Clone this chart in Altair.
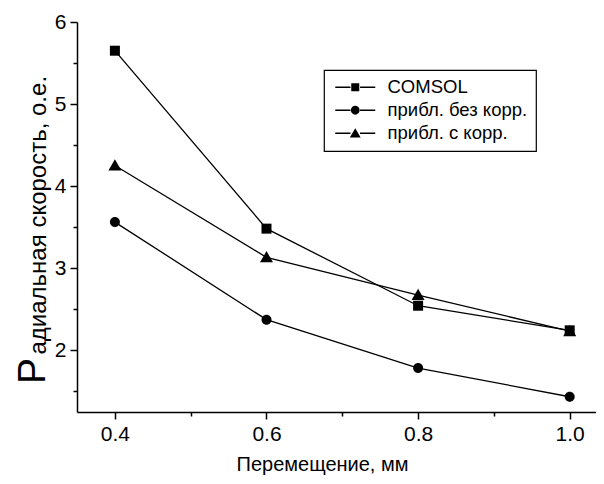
import altair as alt
import pandas as pd

# ---- data ----
x_mm = [0.4, 0.6, 0.8, 1.0]
comsol = [5.65, 3.48, 2.54, 2.24]
no_corr = [3.56, 2.37, 1.78, 1.43]
with_corr = [4.25, 3.13, 2.67, 2.23]
series = ["COMSOL", "прибл. без корр.", "прибл. с корр."]

x_ticks = [0.4, 0.6, 0.8, 1.0]
x_minor = [0.5, 0.7, 0.9]
y_ticks = [2, 3, 4, 5, 6]
y_minor = [1.5, 2.5, 3.5, 4.5, 5.5]

# drawing order: triangles first so squares sit on top where they overlap
rows = []
for name, vals in [(series[2], with_corr), (series[0], comsol), (series[1], no_corr)]:
    for xv, yv in zip(x_mm, vals):
        rows.append({"x": xv, "y": yv, "series": name})
df = pd.DataFrame(rows)

FONT = "Liberation Sans"
xs = alt.Scale(domain=[0.35, 1.0347], nice=False, zero=False)
ys = alt.Scale(domain=[1.244, 6], nice=False, zero=False)

base = alt.Chart(df)

minor = base.mark_line(opacity=0).encode(
    x=alt.X("x:Q", scale=xs, axis=alt.Axis(orient="bottom", values=x_minor, labels=False,
                                           domain=False, tickSize=4, tickWidth=1.5,
                                           tickColor="black", title=None, grid=False)),
    y=alt.Y("y:Q", scale=ys, axis=alt.Axis(orient="left", values=y_minor, labels=False,
                                           domain=False, tickSize=4, tickWidth=1.5,
                                           tickColor="black", title=None, grid=False)),
    detail="series:N",
)

lines = base.mark_line(color="black", strokeWidth=1.3).encode(
    x=alt.X("x:Q", scale=xs, axis=alt.Axis(
        orient="bottom", values=x_ticks, format=".1f", labelFont=FONT, labelFontSize=21,
        labelColor="black", labelPadding=4, labelFlush=False, tickSize=7, tickWidth=1.5,
        tickColor="black", domainWidth=1.5, domainColor="black", grid=False,
        title="Перемещение, мм", titleFont=FONT, titleFontSize=20, titleFontWeight="normal",
        titleColor="black", titleX=245, titleY=58, titleAlign="center",
        titleBaseline="alphabetic")),
    y=alt.Y("y:Q", scale=ys, axis=alt.Axis(
        orient="left", values=y_ticks, labelFont=FONT, labelFontSize=21,
        labelColor="black", labelPadding=4, labelFlush=False, tickSize=7, tickWidth=1.5,
        tickColor="black", domainWidth=1.5, domainColor="black", grid=False,
        title="адиальная скорость, о.е.", titleFont=FONT, titleFontSize=24,
        titleFontWeight="normal", titleColor="black", titleAngle=270, titleAlign="left",
        titleBaseline="alphabetic", titleX=-32, titleY=332)),
    detail="series:N",
)

marker_paths = [
    "M-1,-1H1V1H-1Z",
    "M-1,0A1,1 0 1,0 1,0A1,1 0 1,0 -1,0Z",
    "M0,-1.25L1.3,1H-1.3Z",
]

points = base.mark_point(filled=True, color="black", opacity=1, size=100).encode(
    x=alt.X("x:Q", scale=xs, axis=None),
    y=alt.Y("y:Q", scale=ys, axis=None),
    shape=alt.Shape("series:N", scale=alt.Scale(domain=series, range=marker_paths),
                    legend=None),
)

dash = "M-5,-0.16H-1.2V0.16H-5Z M1.2,-0.16H5V0.16H1.2Z "
legend_paths = [
    dash + "M-1,-1H1V1H-1Z",
    dash + "M-1.1,0A1.1,1.1 0 1,0 1.1,0A1.1,1.1 0 1,0 -1.1,0Z",
    dash + "M0,-1.25L1.35,1.05H-1.35Z",
]

legend_layer = base.mark_point(filled=True, color="black", opacity=1).encode(
    shape=alt.Shape("series:N", scale=alt.Scale(domain=series, range=legend_paths),
                    legend=alt.Legend(title=None, orient="none", legendX=247, legendY=48,
                                      strokeColor="black", fillColor="white", padding=8,
                                      cornerRadius=0, labelFont=FONT, labelFontSize=18.5,
                                      labelColor="black", rowPadding=4, symbolSize=64,
                                      symbolOffset=14, labelOffset=23,
                                      symbolFillColor="black", symbolStrokeWidth=0)),
).transform_filter("false")

big_letter = alt.Chart(pd.DataFrame({"t": ["Р"]})).mark_text(
    font=FONT, fontSize=39, angle=270, align="left", baseline="alphabetic", color="black"
).encode(text="t:N", x=alt.value(-32), y=alt.value(362))

chart = alt.layer(minor, lines, points, legend_layer, big_letter).resolve_axis(
    x="independent", y="independent"
).resolve_scale(shape="independent").properties(
    width=519, height=390,
    autosize=alt.AutoSizeParams(type="none"),
    padding={"left": 69, "top": 14, "right": 0, "bottom": 64},
).configure_view(stroke=None).configure_legend(strokeWidth=1.2)

chart.save("out.html", embed_options={"renderer": "svg", "actions": False})
